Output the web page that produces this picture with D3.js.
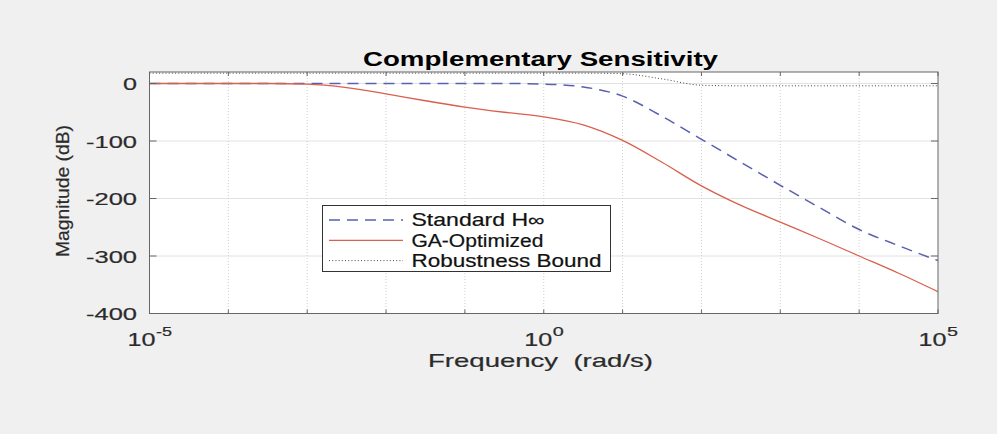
<!DOCTYPE html>
<html><head><meta charset="utf-8">
<script src="https://cdn.jsdelivr.net/npm/d3@7"></script>
<style>body{margin:0;background:#f0f0f0;overflow:hidden}</style>
</head><body><svg id="c" width="997" height="434"></svg>
<script>
// ---- data (frequency exponents: rad/s = 10^exp) ----
const freqExp      = [-5,-4.5,-4,-3.5,-3,-2.5,-2,-1.5,-1,-0.5,0,0.5,1,1.5,2,2.5,3,3.5,4,4.5,5];
const standardHinf = [0,0,0,0,0,0,0,0,0,0,-1,-6,-22,-57,-97,-137,-177,-216,-254,-282,-308];
const gaOptimized  = [0,0,0,0,-1,-7,-18,-30,-41,-50,-58,-72,-99,-137,-178,-212,-241,-270,-300,-330,-362];
const robustBound  = [18,18,18,18,18,18,18,18,18,18,18,18,17,8,-3,-4,-4,-4,-4,-4,-4];
const yTicks = [0,-100,-200,-300,-400];
const xTickExp = [-5,-4,-3,-2,-1,0,1,2,3,4,5];
const xLabelExp = [-5,0,5];
const legendNames = ["Standard H\u221E","GA-Optimized","Robustness Bound"];

const svg = d3.select("#c");
const L=149.5, R=938, T=72, B=313.5;
const x = d3.scaleLog().domain([1e-5,1e5]).range([L,R]);
const y = d3.scaleLinear().domain([-400,20]).range([B,T]);
const FONT = "'Liberation Sans', Arial, Helvetica, sans-serif";
const TXT = "#2b2b2b";

svg.append("rect").attr("width",997).attr("height",434).attr("fill","#f0f0f0");
svg.append("rect").attr("x",L).attr("y",T).attr("width",R-L).attr("height",B-T).attr("fill","#ffffff");

// grid
svg.append("g").selectAll("line").data(yTicks.filter(v=>v>-400)).join("line")
  .attr("x1",L).attr("x2",R).attr("y1",d=>y(d)).attr("y2",d=>y(d))
  .attr("stroke","#e2e2e2").attr("stroke-width",1);
svg.append("g").selectAll("line").data(xTickExp.slice(1,-1)).join("line")
  .attr("x1",d=>x(Math.pow(10,d))).attr("x2",d=>x(Math.pow(10,d))).attr("y1",T).attr("y2",B)
  .attr("stroke","#cfcfcf").attr("stroke-width",1).attr("stroke-dasharray","1,2");

// clip
svg.append("clipPath").attr("id","clip").append("rect").attr("x",L).attr("y",T-1).attr("width",R-L).attr("height",B-T+2);

const line = vals => d3.line().x((d,i)=>x(Math.pow(10,freqExp[i]))).y(d=>y(d)).curve(d3.curveMonotoneX)(vals);
const series = [
  {vals:robustBound, color:"#444444", dash:"1,2.2", w:1},
  {vals:standardHinf, color:"#5a5fae", dash:"11,7", w:1.5},
  {vals:gaOptimized, color:"#d8604c", dash:null, w:1.3}
];
const gl = svg.append("g").attr("clip-path","url(#clip)");
series.forEach(s=>{
  gl.append("path").attr("d",line(s.vals)).attr("fill","none").attr("stroke",s.color)
    .attr("stroke-width",s.w).attr("stroke-dasharray",s.dash);
});

// axes box and ticks
const axc = "#666666";
svg.append("rect").attr("x",L).attr("y",T).attr("width",R-L).attr("height",B-T)
  .attr("fill","none").attr("stroke",axc).attr("stroke-width",1);
const tk = svg.append("g").attr("stroke",axc).attr("stroke-width",1);
xTickExp.forEach(e=>{
  const px = x(Math.pow(10,e));
  tk.append("line").attr("x1",px).attr("x2",px).attr("y1",B).attr("y2",B-4);
  tk.append("line").attr("x1",px).attr("x2",px).attr("y1",T).attr("y2",T+4);
});
yTicks.forEach(v=>{
  const py = y(v);
  tk.append("line").attr("x1",L).attr("x2",L+7).attr("y1",py).attr("y2",py);
  tk.append("line").attr("x1",R).attr("x2",R-7).attr("y1",py).attr("y2",py);
});

function heavy(sel, c){ return sel.attr("stroke",c).attr("stroke-width",0.2); }

// y tick labels
const ytl = {"0":14, "-100":51, "-200":51, "-300":51, "-400":51};
heavy(svg.append("g").selectAll("text").data(yTicks).join("text")
  .attr("x",137).attr("y",d=>y(d)+6.5).attr("text-anchor","end")
  .attr("font-family",FONT).attr("font-size",17).attr("fill",TXT)
  .attr("textLength",d=>ytl[String(d)]).attr("lengthAdjust","spacingAndGlyphs")
  .text(d=>String(d)), TXT);

// x tick labels
xLabelExp.forEach(e=>{
  const px = x(Math.pow(10,e));
  const supW = e<0 ? 16 : 11;
  const total = 28 + supW;
  const x0 = px - total/2;
  heavy(svg.append("text").attr("x",x0).attr("y",346).attr("font-family",FONT).attr("font-size",18)
    .attr("fill",TXT).attr("textLength",28).attr("lengthAdjust","spacingAndGlyphs").text("10"), TXT);
  heavy(svg.append("text").attr("x",x0+28.5).attr("y",336).attr("font-family",FONT).attr("font-size",12.5)
    .attr("fill",TXT).attr("textLength",supW).attr("lengthAdjust","spacingAndGlyphs").text(String(e)), TXT);
});

// axis labels
heavy(svg.append("text").attr("x",540.5).attr("y",367).attr("text-anchor","middle")
  .attr("font-family",FONT).attr("font-size",18.5).attr("fill",TXT)
  .attr("textLength",225).attr("lengthAdjust","spacingAndGlyphs").attr("xml:space","preserve")
  .text("Frequency  (rad/s)"), TXT);
heavy(svg.append("text").attr("transform","translate(69,191) rotate(-90)").attr("text-anchor","middle")
  .attr("font-family",FONT).attr("font-size",19).attr("fill",TXT)
  .attr("textLength",132).attr("lengthAdjust","spacingAndGlyphs")
  .text("Magnitude (dB)"), TXT);

// title
svg.append("text").attr("x",540.5).attr("y",66).attr("text-anchor","middle")
  .attr("font-family",FONT).attr("font-size",20).attr("font-weight","bold").attr("fill","#000")
  .attr("textLength",355).attr("lengthAdjust","spacingAndGlyphs")
  .text("Complementary Sensitivity");

// legend
const lg = svg.append("g");
lg.append("rect").attr("x",322.5).attr("y",205.5).attr("width",288).attr("height",66)
  .attr("fill","#ffffff").attr("stroke","#333333").attr("stroke-width",1);
const legSeries = [series[1],series[2],series[0]];
const legW = [133,132,190];
legendNames.forEach((n,i)=>{
  const cy = 220 + i*20.3;
  const s = legSeries[i];
  lg.append("line").attr("x1",329).attr("x2",403).attr("y1",cy).attr("y2",cy)
    .attr("stroke",s.color).attr("stroke-width",s.w).attr("stroke-dasharray",s.dash);
  heavy(lg.append("text").attr("x",411.5).attr("y",cy+6.3).attr("font-family",FONT).attr("font-size",17.5)
    .attr("fill","#111").attr("textLength",legW[i]).attr("lengthAdjust","spacingAndGlyphs").text(n), "#111");
});
</script>
</body></html>
